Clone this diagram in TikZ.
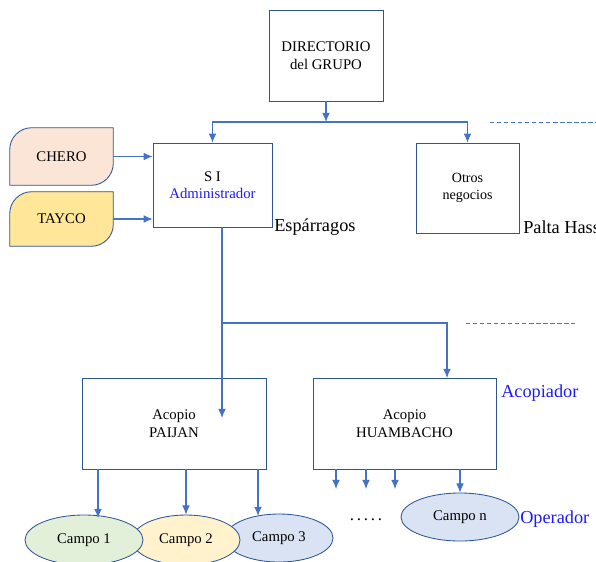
\documentclass[tikz,border=0pt]{standalone}
\usepackage{fontspec}
\setmainfont{Liberation Serif}
\usetikzlibrary{arrows.meta,shapes.geometric,positioning,backgrounds}
\definecolor{boxblue}{HTML}{4472C4}
\definecolor{edgeblue}{HTML}{2F5597}
\definecolor{cheropeach}{HTML}{FBE5D6}
\definecolor{taycoyellow}{HTML}{FFE699}
\definecolor{campogreen}{HTML}{E2F0D9}
\definecolor{campoyellow}{HTML}{FFF2CC}
\definecolor{campoblue}{HTML}{DAE3F3}
\definecolor{labelblue}{HTML}{1A1AFF}
\tikzset{>={Latex[length=6.5pt,width=5.5pt]}}

\begin{document}
\begin{tikzpicture}[x=0.025cm,y=-0.025cm]
  \tikzstyle{box_node}=[rectangle,draw=edgeblue,fill=white,align=center,inner sep=0pt,font=\fontsize{10.5}{12.5}\selectfont]
  \tikzstyle{src_node}=[rectangle,inner sep=0pt,minimum width=2.575cm,font=\fontsize{10.5}{12.5}\selectfont]
  \tikzstyle{campo_node}=[ellipse,draw=edgeblue,inner sep=0pt,line width=0.6pt,font=\fontsize{10.5}{12.5}\selectfont]
  \tikzstyle{flow}=[->,draw=boxblue,line width=0.75pt]
  \tikzstyle{tag_label}=[anchor=west,inner sep=0pt,font=\fontsize{13}{15}\selectfont]
  \tikzstyle{sep_line}=[boxblue,densely dashed,line width=0.5pt]
  \useasboundingbox (0,0) rectangle (596,561);

  % top level
  \node[box_node,minimum width=2.85cm,minimum height=2.275cm] (dir) at (326,55.5) {DIRECTORIO\\del GRUPO};
  \node[box_node,minimum width=2.975cm,minimum height=2.1cm] (si) at (212.5,185) {S I\\\textcolor{labelblue}{Administrador}};
  \node[box_node,minimum width=2.575cm,minimum height=2.25cm,font=\fontsize{10}{12.5}\selectfont] (otros) at (467.5,188) {Otros\\negocios};
  \node[tag_label] (esparragos) at (274,227) {Espárragos};
  \node[tag_label] (palta) at (523,227) {Palta Hass};

  % sources
  \node[src_node,minimum height=1.425cm] (chero) at (61.5,156.5) {CHERO};
  \node[src_node,minimum height=1.35cm] (tayco) at (61.5,219) {TAYCO};
  \begin{scope}[on background layer]
    \foreach \n/\c in {chero/cheropeach,tayco/taycoyellow}
    {
      \draw[draw=edgeblue,line width=0.6pt,fill=\c] (\n.west) [rounded corners=0.55cm] -- (\n.north west) [sharp corners] -- (\n.north east) [rounded corners=0.55cm] -- (\n.south east) [sharp corners] -- (\n.south west) -- cycle;
    }
  \end{scope}

  % acopio level
  \node[box_node,minimum width=4.6cm,minimum height=2.275cm] (paijan) at (174,423.5) {Acopio\\PAIJAN};
  \node[box_node,minimum width=4.575cm,minimum height=2.275cm] (huamb) at (404.5,423.5) {Acopio\\HUAMBACHO};
  \node[tag_label,text=labelblue] (acopiador) at (501,393) {Acopiador};

  % campos
  \node[campo_node,fill=campoblue,minimum width=2.7cm,minimum height=1.2cm] (c3) at (279,538) {Campo 3\hspace{8pt}};
  \node[campo_node,fill=campoyellow,minimum width=2.7cm,minimum height=1.25cm] (c2) at (186,540) {Campo 2};
  \node[campo_node,fill=campogreen,minimum width=2.95cm,minimum height=1.25cm] (c1) at (84,540) {Campo 1};
  \node[campo_node,fill=campoblue,minimum width=2.95cm,minimum height=1.2cm] (cn) at (460,517) {Campo n};
  \node[font=\fontsize{12}{14}\selectfont] (dots) at (366,520) {.\,.\,.\,.\,.};
  \node[tag_label,text=labelblue] (operador) at (520,519) {Operador};

  % connectors
  \coordinate (j_top) at (326,122);
  \draw[flow] (dir.south) -- (j_top);
  \draw[flow] (j_top) -| (si.north);
  \draw[flow] (j_top) -| (otros.north);
  \draw[sep_line] (490,122) -- (596,122);

  \draw[flow] (chero.east) -- (chero.east -| si.west);
  \draw[flow] (tayco.east) -- (tayco.east -| si.west);

  \coordinate (j_mid) at (222,323);
  \coordinate (paijan_tip) at (222,418);
  \coordinate (huamb_in) at (447,378);
  \draw[draw=boxblue,line width=0.75pt] (si.south -| j_mid) -- (j_mid);
  \draw[flow] (j_mid) -- (paijan_tip);
  \draw[flow] (j_mid) -| (huamb_in);
  \draw[sep_line] (466,323) -- (575,323);

  \draw[flow] (paijan.south -| 98,0) -- (98,518);
  \draw[flow] (paijan.south -| c2.north) -- (c2.north);
  \draw[flow] (paijan.south -| 258,0) -- (258,516);

  \foreach \x in {336,366,395}
  {
    \coordinate (h\x) at (\x,489);
    \draw[flow] (huamb.south -| h\x) -- (h\x);
  }
  \draw[flow] (huamb.south -| cn.north) -- (cn.north);
\end{tikzpicture}
\end{document}
